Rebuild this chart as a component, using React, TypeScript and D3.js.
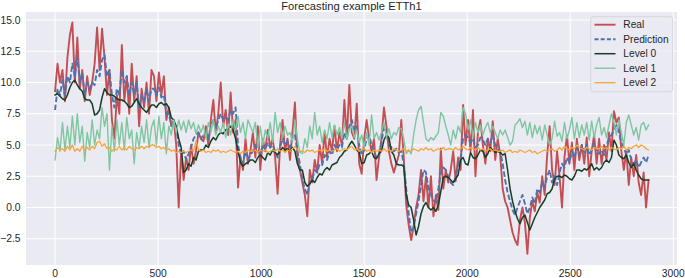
import React from "react";
import * as d3 from "d3";

// time step between stored samples (hours)
const STEP = 12;

const realValues: number[] = [
  9.3, 11.5, 10.0, 11.0, 8.5, 12.0, 13.8, 14.8, 10.0, 13.6, 9.5, 11.0, 8.5, 10.5, 9.0, 10.0, 11.5, 14.4, 11.0, 14.3,
  12.0, 9.0, 11.0, 7.0, 5.5, 9.0, 7.5, 13.0, 8.5, 10.5, 7.5, 11.5, 8.5, 10.5, 6.5, 9.5, 8.0, 10.0, 7.5, 11.0,
  10.5, 8.5, 10.8, 9.0, 10.5, 7.0, 8.0, 6.5, 7.0, 5.0, 0.0, 4.5, 2.2, 4.0, 3.0, 5.0, 3.5, 4.5, 6.0, 5.5,
  5.3, 6.5, 5.0, 7.0, 8.6, 6.0, 7.5, 10.0, 6.5, 7.8, 5.8, 9.2, 6.0, 7.0, 1.6, 4.0, 3.0, 5.5, 3.5, 4.5,
  6.0, 4.0, 6.5, 3.0, 5.5, 4.5, 6.2, 4.8, 5.5, 4.0, 1.1, 5.0, 7.0, 4.5, 5.5, 3.8, 6.0, 8.4, 4.0, 3.0,
  2.0, 1.0, -0.7, 3.0, 2.0, 3.8, 2.8, 5.0, 3.5, 6.0, 4.0, 5.5, 4.5, 6.5, 4.5, 6.0, 5.0, 8.6, 5.5, 9.8,
  6.0, 5.5, 8.3, 3.5, 2.7, 5.5, 7.0, 5.5, 4.5, 5.5, 2.2, 4.0, 5.5, 8.0, 6.5, 4.5, 3.5, 2.8, 3.5, 4.2,
  7.0, 4.0, 0.2, -1.4, -2.6, -1.5, 0.0, 1.0, 3.0, 0.5, 2.5, 0.0, 2.5, -0.7, 1.0, -0.2, 4.7, 1.5, 3.0, 2.0,
  3.0, 4.5, 2.1, 4.0, 3.0, 8.2, 5.0, 7.0, 4.5, 7.8, 2.5, 6.0, 7.0, 5.0, 3.5, 5.5, 4.5, 6.9, 3.8, 5.5,
  4.2, 1.5, 0.5, 0.0, -1.0, -2.0, -2.6, -3.0, -1.0, 0.0, -1.2, -3.7, -0.8, 0.5, -0.3, 1.2, 0.4, 2.5, 1.0, 4.2,
  6.5, 3.0, 1.8, 4.5, 2.5, 0.0, 4.0, 5.8, 3.5, 5.2, 3.0, 5.5, 3.8, 5.0, 3.5, 5.6, 2.5, 4.5, 5.8, 3.5,
  5.5, 3.5, 5.0, 3.8, 6.0, 4.5, 7.7, 6.8, 7.2, 4.5, 3.0, 4.5, 1.8, 4.0, 2.5, 4.2, 2.0, 1.0, 2.8, 0.0, 2.2,
];

const predictionValues: number[] = [
  7.8, 9.5, 9.0, 10.2, 9.0, 10.5, 10.0, 11.5, 10.5, 12.1, 10.0, 10.8, 9.0, 10.0, 9.5, 10.0, 9.8, 11.0, 10.5, 11.8,
  12.2, 10.5, 11.0, 9.0, 8.0, 9.5, 9.0, 11.0, 10.0, 10.5, 9.0, 10.0, 9.0, 10.0, 8.0, 9.0, 8.5, 9.5, 8.5, 9.5,
  9.5, 9.0, 9.6, 8.8, 9.0, 7.5, 7.5, 6.6, 6.8, 6.5, 5.0, 4.2, 4.5, 3.8, 4.3, 4.8, 5.5, 5.8, 6.0, 5.5,
  5.8, 6.0, 5.5, 6.5, 7.0, 6.3, 7.0, 7.5, 7.0, 7.2, 7.0, 7.8, 7.5, 8.0, 5.0, 4.0, 3.5, 4.5, 3.8, 4.2,
  4.5, 5.0, 4.6, 4.2, 5.0, 4.6, 5.2, 4.8, 5.0, 4.5, 4.0, 4.8, 5.5, 5.0, 5.3, 4.8, 5.6, 5.8, 4.5, 3.5,
  2.2, 1.5, 1.0, 2.0, 2.2, 3.0, 2.8, 3.5, 3.4, 4.2, 3.8, 4.5, 4.2, 5.0, 4.6, 5.0, 4.8, 6.0, 5.5, 6.5,
  7.0, 6.2, 6.5, 5.0, 4.2, 4.6, 5.5, 5.8, 5.0, 4.5, 4.0, 4.3, 5.2, 6.5, 6.0, 5.0, 4.8, 4.5, 4.7, 4.4,
  4.5, 3.5, 1.5, -0.5, -2.0, -1.6, -0.5, 0.5, 1.8, 3.0, 2.8, 1.5, 1.0, 0.6, 0.4, 1.5, 2.8, 3.2, 3.0, 2.5,
  2.0, 1.8, 2.5, 3.5, 4.0, 5.5, 5.8, 5.6, 5.2, 5.5, 4.8, 5.0, 5.6, 5.4, 5.0, 5.5, 5.2, 5.8, 5.0, 4.7,
  4.5, 3.5, 2.2, 1.2, 0.5, -0.2, -0.6, 0.0, 0.5, 1.0, 0.3, -0.5, 0.0, 0.8, 0.3, 1.5, 1.2, 2.0, 1.6, 2.5,
  3.0, 2.0, 2.5, 1.8, 2.8, 3.5, 3.2, 4.0, 3.6, 4.5, 4.0, 4.8, 4.2, 5.0, 4.4, 5.0, 4.2, 4.6, 5.2, 4.4,
  4.3, 4.6, 4.2, 5.0, 5.5, 5.8, 6.2, 6.6, 6.0, 5.2, 4.8, 4.2, 4.6, 3.8, 3.5, 3.8, 3.2, 3.6, 4.0, 3.6, 4.2,
];

const level0Values: number[] = [
  9.0, 9.1, 8.9, 8.7, 8.6, 9.0, 9.6, 10.0, 10.2, 9.8, 9.5, 9.3, 8.7, 8.6, 8.6, 8.3, 7.4, 7.5, 7.8, 8.8,
  9.5, 9.2, 9.0, 9.0, 8.9, 8.7, 8.6, 8.6, 8.5, 8.3, 8.0, 8.1, 8.4, 8.7, 8.3, 8.0, 7.8, 7.6, 7.9, 8.2,
  8.2, 8.0, 8.3, 8.4, 8.2, 8.3, 8.0, 7.2, 7.0, 6.5, 5.5, 4.8, 2.8, 3.0, 3.5, 3.3, 4.0, 3.8, 4.5, 4.6,
  4.6, 5.0, 4.8, 5.3, 5.6, 5.4, 5.8, 6.0, 5.9, 6.2, 6.3, 6.5, 6.2, 5.5, 4.5, 3.6, 3.3, 3.5, 3.6, 3.8,
  3.8, 3.6, 4.0, 4.2, 4.0, 3.8, 4.4, 4.2, 4.6, 4.4, 4.2, 4.5, 4.8, 4.6, 4.7, 4.5, 4.8, 4.5, 3.5, 3.0,
  3.0, 2.0, 1.7, 1.9, 2.2, 2.0, 2.4, 2.7, 2.6, 3.0, 3.2, 3.0, 3.4, 3.5, 3.6, 4.0, 4.2, 4.5, 4.6, 5.0,
  5.3, 5.0, 4.6, 4.4, 3.5, 3.6, 4.2, 4.3, 4.5, 4.0, 3.9, 4.3, 4.5, 5.4, 5.8, 5.6, 4.5, 4.2, 3.5, 3.4,
  3.4, 3.3, 1.0, 0.2, 0.0, -1.0, -2.2, -1.5, -0.5, 0.1, 0.4, 0.0, -0.2, 0.0, -0.3, 0.2, 1.3, 2.4, 2.5, 2.4,
  2.2, 2.0, 2.3, 2.6, 3.8, 4.0, 3.5, 3.4, 4.4, 4.0, 3.9, 4.2, 4.6, 4.5, 4.0, 4.3, 4.8, 4.6, 4.4, 4.5,
  4.4, 4.2, 4.3, 3.0, 1.5, 0.5, -0.3, -0.9, -1.3, -0.8, -0.6, -1.2, -1.8, -1.3, -0.8, -0.4, 0.0, 0.3, 0.6, 1.1,
  1.2, 1.5, 2.3, 2.5, 2.5, 2.4, 2.6, 2.5, 2.3, 2.2, 2.5, 3.0, 3.0, 2.9, 3.1, 3.0, 3.2, 3.5, 3.0, 3.2,
  3.0, 3.2, 3.6, 3.8, 3.6, 4.0, 5.4, 5.0, 4.2, 4.0, 3.9, 4.2, 3.6, 3.2, 3.5, 3.0, 2.6, 2.3, 2.2, 2.2, 2.2,
];

const level1Values: number[] = [
  3.8, 5.6, 4.5, 6.8, 4.6, 6.5, 4.8, 7.3, 5.0, 7.5, 5.2, 6.5, 3.7, 6.0, 4.8, 7.0, 5.0, 6.2, 5.5, 8.0,
  6.5, 7.5, 3.0, 6.5, 4.5, 7.0, 5.0, 6.8, 4.6, 7.2, 5.5, 6.2, 3.5, 6.0, 4.8, 6.5, 5.2, 7.0, 4.8, 6.4,
  7.0, 5.0, 7.3, 5.5, 6.8, 4.3, 6.5, 5.8, 7.0, 6.0, 7.0, 6.2, 6.9, 6.0, 7.0, 6.3, 6.8, 5.9, 6.6, 6.0,
  6.6, 5.5, 6.8, 6.0, 7.0, 5.8, 6.5, 6.0, 6.8, 5.6, 6.7, 5.8, 7.0, 6.2, 7.3, 6.0, 6.8, 5.5, 7.0, 6.5,
  6.0, 6.8, 4.8, 6.5, 5.0, 6.2, 5.5, 6.8, 5.2, 7.6, 6.0, 6.8, 5.6, 6.5, 5.8, 6.0, 5.2, 7.0, 5.5, 4.4,
  4.3, 5.5, 4.8, 6.5, 5.5, 7.6, 5.8, 6.5, 5.2, 6.2, 5.5, 6.8, 5.6, 6.6, 5.8, 6.4, 5.5, 6.8, 5.5, 6.3,
  6.5, 5.6, 6.2, 5.2, 5.8, 4.8, 6.0, 5.0, 7.4, 5.5, 6.0, 5.4, 6.0, 6.8, 5.6, 6.3, 5.5, 6.0, 5.8, 6.4,
  6.3, 5.5, 4.3, 4.6, 4.3, 5.8, 7.0, 7.8, 8.1, 6.8, 5.5, 5.3, 5.6, 5.4, 5.7, 6.0, 7.6, 7.3, 6.5, 5.8,
  5.0, 6.2, 5.5, 6.5, 6.0, 8.0, 7.5, 6.2, 7.0, 5.6, 6.8, 6.0, 6.6, 5.8, 6.4, 6.8, 6.0, 6.5, 6.0, 5.5,
  6.2, 5.8, 6.2, 5.6, 5.0, 5.3, 6.6, 6.8, 7.1, 6.4, 6.9, 5.8, 6.8, 5.6, 6.6, 5.9, 6.5, 5.4, 6.6, 5.8,
  5.0, 5.5, 6.9, 5.7, 6.0, 5.3, 6.8, 5.5, 6.2, 7.2, 5.5, 6.8, 5.6, 6.6, 5.8, 6.8, 5.4, 6.9, 5.6, 6.6,
  7.2, 5.8, 6.4, 5.6, 6.6, 7.5, 6.8, 5.8, 7.0, 6.0, 5.0, 6.8, 7.4, 6.6, 5.8, 6.4, 5.4, 6.6, 6.8, 6.2, 6.6,
];

const level2Values: number[] = [
  4.5, 4.8, 4.6, 4.7, 4.5, 4.9, 4.6, 5.0, 4.5, 4.7, 4.5, 4.9, 4.6, 4.8, 4.6, 4.9, 4.7, 5.2, 5.3, 4.9,
  5.1, 4.7, 4.8, 4.5, 4.7, 4.6, 4.9, 4.6, 4.8, 4.6, 4.9, 4.7, 4.6, 4.8, 4.7, 4.9, 4.7, 4.9, 4.8, 5.0,
  5.0, 4.8, 4.9, 4.7, 4.8, 4.6, 4.7, 4.5, 4.6, 4.4, 4.5, 4.4, 4.5, 4.4, 4.5, 4.6, 4.5, 5.3, 4.6, 4.5,
  4.6, 4.4, 4.5, 4.4, 4.6, 4.5, 4.6, 4.4, 4.5, 4.4, 4.5, 4.6, 4.5, 4.4, 4.5, 4.3, 4.5, 4.4, 4.6, 4.5,
  4.5, 4.6, 4.4, 4.6, 4.5, 4.6, 4.4, 4.5, 4.6, 4.5, 4.7, 4.5, 4.6, 4.4, 4.6, 4.5, 4.7, 4.9, 4.6, 4.5,
  4.5, 4.4, 4.6, 4.5, 4.6, 4.4, 4.5, 4.6, 4.5, 4.7, 4.5, 4.6, 4.5, 4.6, 4.7, 4.5, 4.6, 4.7, 4.6, 4.8,
  4.9, 4.6, 4.7, 4.5, 4.6, 4.7, 4.5, 4.6, 4.4, 4.6, 4.5, 4.6, 4.5, 4.7, 4.5, 4.6, 4.5, 4.7, 4.6, 4.5,
  4.6, 4.7, 4.5, 4.6, 4.5, 4.7, 4.6, 4.5, 4.7, 4.6, 4.8, 4.6, 4.7, 4.5, 4.6, 4.7, 4.6, 4.8, 4.6, 4.7,
  4.7, 4.6, 4.8, 4.6, 4.7, 4.9, 4.7, 4.6, 4.8, 4.7, 4.6, 4.8, 4.6, 4.7, 4.5, 4.6, 4.7, 4.5, 4.6, 4.5,
  4.5, 4.6, 4.4, 4.5, 4.6, 4.4, 4.5, 4.4, 4.6, 4.5, 4.4, 4.5, 4.6, 4.4, 4.5, 4.3, 4.4, 4.5, 4.6, 4.5,
  4.6, 4.7, 4.5, 4.6, 4.8, 4.6, 4.9, 4.7, 4.6, 4.8, 4.7, 5.0, 4.8, 4.7, 4.6, 4.8, 4.7, 4.6, 4.8, 4.7,
  4.7, 4.9, 4.7, 4.8, 4.6, 4.8, 4.7, 4.6, 4.8, 4.7, 4.9, 4.6, 4.8, 4.7, 4.9, 5.0, 4.8, 5.0, 4.9, 4.7, 4.6,
];

const seriesNames = ["Real", "Prediction", "Level 0", "Level 1", "Level 2"];
const xTickValues = [0, 500, 1000, 1500, 2000, 2500, 3000];
const yTickValues = [-2.5, 0, 2.5, 5, 7.5, 10, 12.5, 15];
const title = "Forecasting example ETTh1";

const W = 685;
const H = 278;
const PL = 26, PR = 677, PT = 12, PB = 265;
const FONT = "'Liberation Sans', Arial, Helvetica, sans-serif";

const styles = [
  { color: "#c44e52", width: 1.9, dash: undefined as string | undefined },
  { color: "#4c72b0", width: 1.9, dash: "5.5,2.4" },
  { color: "#173f26", width: 1.5, dash: undefined },
  { color: "#7fc6a0", width: 1.4, dash: undefined },
  { color: "#f9a436", width: 1.3, dash: undefined },
];

export default function App() {
  const x = d3.scaleLinear().domain([-141, 3018]).range([PL, PR]);
  const y = d3.scaleLinear().domain([-4.6, 15.64]).range([PB, PT]);
  const line = d3
    .line<number>()
    .x((_, i) => x(i * STEP))
    .y((d) => y(d));
  const all = [realValues, predictionValues, level0Values, level1Values, level2Values];
  const fmtY = (v: number) => (v < 0 ? "\u2212" : "") + Math.abs(v).toFixed(1);

  const legX = 590.7, legY = 16.7, legW = 82, legH = 75;
  const rowY = (i: number) => 24.7 + i * 14.5;

  return (
    <svg
      width={W}
      height={H}
      style={{ position: "absolute", left: 0, top: 0, background: "#ffffff" }}
      fontFamily={FONT}
    >
      <rect x={PL} y={PT} width={PR - PL} height={PB - PT} fill="#eaeaf2" />
      <defs>
        <clipPath id="plotclip">
          <rect x={PL} y={PT} width={PR - PL} height={PB - PT} />
        </clipPath>
      </defs>
      {yTickValues.map((v) => (
        <line key={"gy" + v} x1={PL} x2={PR} y1={y(v)} y2={y(v)} stroke="#ffffff" strokeWidth={1} />
      ))}
      {xTickValues.map((v) => (
        <line key={"gx" + v} x1={x(v)} x2={x(v)} y1={PT} y2={PB} stroke="#ffffff" strokeWidth={1} />
      ))}
      <g clipPath="url(#plotclip)">
        {all.map((arr, i) => (
          <path
            key={i}
            d={line(arr) || ""}
            fill="none"
            stroke={styles[i].color}
            strokeWidth={styles[i].width}
            strokeDasharray={styles[i].dash}
            strokeLinejoin="round"
            strokeLinecap={styles[i].dash ? "butt" : "square"}
          />
        ))}
      </g>
      {yTickValues.map((v) => (
        <text
          key={"ty" + v}
          x={20.5}
          y={y(v)}
          dy="0.35em"
          textAnchor="end"
          fontSize={10.3}
          fill="#262626"
        >
          {fmtY(v)}
        </text>
      ))}
      {xTickValues.map((v) => (
        <text key={"tx" + v} x={x(v)} y={276.5} textAnchor="middle" fontSize={10.3} fill="#262626">
          {v}
        </text>
      ))}
      <text x={(PL + PR) / 2} y={10} textAnchor="middle" fontSize={11.2} fill="#262626">
        {title}
      </text>
      <rect
        x={legX}
        y={legY}
        width={legW}
        height={legH}
        rx={2.5}
        fill="#eaeaf2"
        fillOpacity={0.8}
        stroke="#d0d0d8"
        strokeWidth={0.8}
      />
      {seriesNames.map((name, i) => (
        <g key={name}>
          <line
            x1={594.5}
            x2={615.5}
            y1={rowY(i)}
            y2={rowY(i)}
            stroke={styles[i].color}
            strokeWidth={styles[i].width}
            strokeDasharray={styles[i].dash ? "4,2.2" : undefined}
          />
          <text x={623.3} y={rowY(i)} dy="0.35em" fontSize={10.2} fill="#262626">
            {name}
          </text>
        </g>
      ))}
    </svg>
  );
}
